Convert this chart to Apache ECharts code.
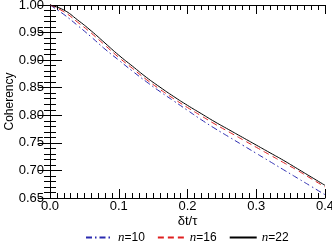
<!DOCTYPE html>
<html><head><meta charset="utf-8">
<script src="https://cdn.jsdelivr.net/npm/echarts@6/dist/echarts.min.js"></script>
<style>html,body{margin:0;padding:0;background:#fff}#c{width:332px;height:244px}</style>
</head><body><div id="c"></div>
<script>
var xs = [0.00,0.02,0.04,0.06,0.08,0.10,0.12,0.14,0.16,0.18,0.20,0.22,0.24,0.26,0.28,0.30,0.32,0.34,0.36,0.38,0.40];
var n10 = [1.000,0.983,0.963,0.942,0.920,0.900,0.880,0.861,0.843,0.826,0.809,0.792,0.776,0.761,0.746,0.731,0.716,0.701,0.686,0.671,0.656];
var n16 = [1.000,0.988,0.969,0.949,0.927,0.905,0.885,0.865,0.847,0.830,0.814,0.799,0.784,0.770,0.756,0.742,0.728,0.714,0.700,0.685,0.670];
var n22 = [1.000,0.991,0.973,0.953,0.931,0.909,0.889,0.869,0.851,0.834,0.818,0.803,0.788,0.774,0.760,0.746,0.732,0.718,0.703,0.688,0.673];
var seriesNames = ['n=10','n=16','n=22'];

function pairs(v){ return xs.map(function(x,i){return [x,v[i]];}); }
var F = 'Liberation Sans';
var chart = echarts.init(document.getElementById('c'), null, {renderer:'canvas'});
var axLine = {show:true, lineStyle:{color:'#000', width:1}};
chart.setOption({
  animation:false,
  grid:{left:50, top:5, right:7, bottom:46, containLabel:false, outerBoundsMode:'none'},
  legend:{
    show:true, type:'plain', bottom:0, left:85, itemWidth:27, itemHeight:8, itemGap:12, padding:[0,0,0,0],
    itemStyle:{opacity:0},
    data:seriesNames,
    formatter:function(n){ return '{i|n}' + n.slice(1); },
    textStyle:{fontFamily:F, fontSize:12, color:'#000',
      rich:{i:{fontFamily:'Liberation Serif', fontStyle:'italic', fontSize:13, color:'#000'}}}
  },
  xAxis:[{
    type:'value', min:0, max:0.4, interval:0.1,
    name:'δt/τ', nameLocation:'middle', nameGap:17, nameMoveOverlap:false,
    nameTextStyle:{fontFamily:F, fontSize:13, color:'#000'},
    axisLine:axLine,
    axisTick:{show:true, inside:true, length:9, lineStyle:{color:'#000'}},
    minorTick:{show:true, splitNumber:10, length:5, lineStyle:{color:'#000'}},
    splitLine:{show:false},
    axisLabel:{fontFamily:F, fontSize:13, color:'#000', margin:2, formatter:function(v){return v.toFixed(1);}}
  },{
    type:'value', min:0, max:0.4, interval:0.1, position:'top',
    axisLine:axLine,
    axisTick:{show:true, inside:true, length:9, lineStyle:{color:'#000'}},
    minorTick:{show:true, splitNumber:10, length:5, lineStyle:{color:'#000'}},
    splitLine:{show:false}, axisLabel:{show:false}
  }],
  yAxis:[{
    type:'value', min:0.65, max:1.0, interval:0.05,
    name:'Coherency', nameLocation:'middle', nameGap:34, nameMoveOverlap:false,
    nameTextStyle:{fontFamily:F, fontSize:12, color:'#000'},
    axisLine:axLine,
    axisTick:{show:true, inside:true, length:12, lineStyle:{color:'#000'}},
    minorTick:{show:true, splitNumber:5, length:6, lineStyle:{color:'#000'}},
    splitLine:{show:false},
    axisLabel:{fontFamily:F, fontSize:13, color:'#000', margin:6, formatter:function(v){return v.toFixed(2);}}
  },{
    type:'value', min:0.65, max:1.0, interval:0.05, position:'right',
    axisLine:axLine,
    axisTick:{show:true, inside:true, length:12, lineStyle:{color:'#000'}},
    minorTick:{show:true, splitNumber:5, length:6, lineStyle:{color:'#000'}},
    splitLine:{show:false}, axisLabel:{show:false}
  }],
  series:[
    {name:seriesNames[0], type:'line', data:pairs(n10), smooth:true, symbol:'none',
     itemStyle:{color:'#2b2bb0'}, lineStyle:{color:'#2b2bb0', width:1, type:[6,3,1.5,3]}},
    {name:seriesNames[1], type:'line', data:pairs(n16), smooth:true, symbol:'none',
     itemStyle:{color:'#e02020'}, lineStyle:{color:'#e02020', width:1, type:[6,4]}},
    {name:seriesNames[2], type:'line', data:pairs(n22), smooth:true, symbol:'none',
     itemStyle:{color:'#000'}, lineStyle:{color:'#000', width:1, type:'solid'}}
  ]
});
</script></body></html>
